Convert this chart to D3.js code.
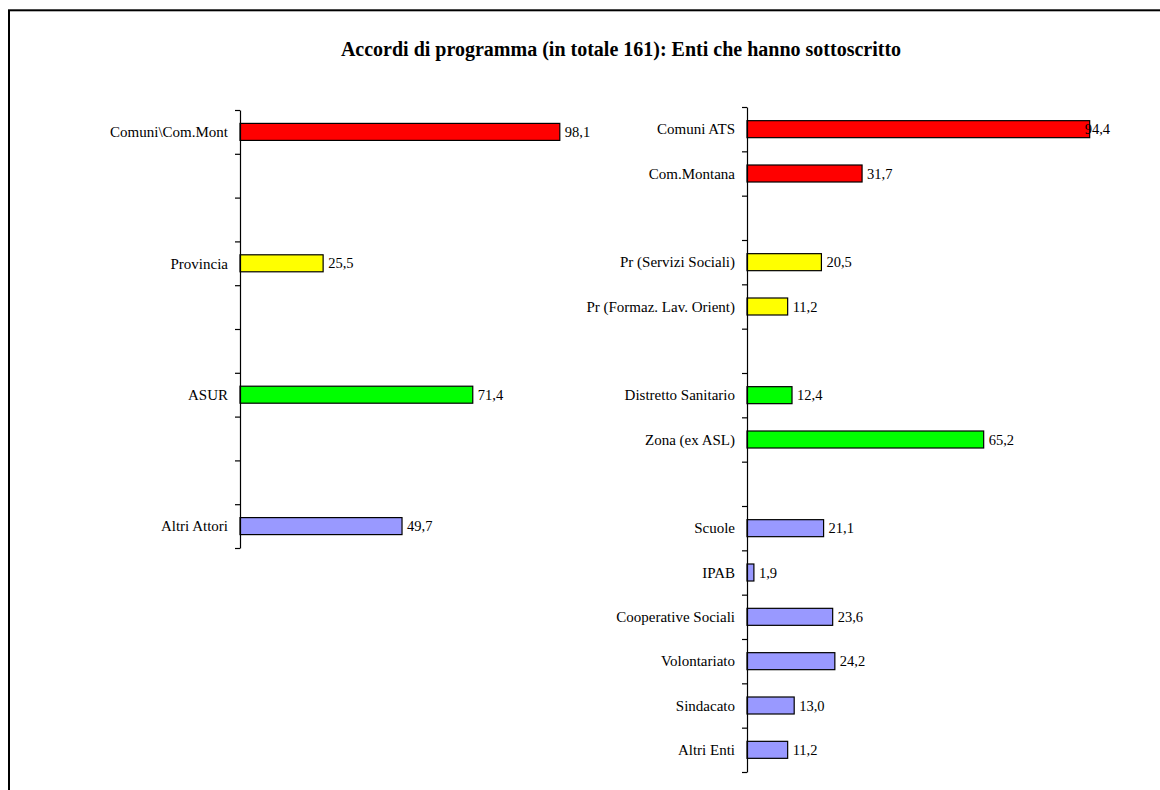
<!DOCTYPE html>
<html>
<head>
<meta charset="utf-8">
<script src="https://cdn.jsdelivr.net/npm/d3@7"></script>
<style>
  html, body { margin: 0; padding: 0; background: #fff; }
  svg { display: block; }
  text { font-family: "Liberation Serif", "Times New Roman", serif; fill: #000; }
</style>
</head>
<body>
<svg id="chart" width="1160" height="790"></svg>
<script>
// ---- Data ----
const titleText = "Accordi di programma (in totale 161): Enti che hanno sottoscritto";

const leftCategories = ["Comuni\\Com.Mont", null, null, "Provincia", null, null, "ASUR", null, null, "Altri Attori"];
const leftValues     = [98.1, null, null, 25.5, null, null, 71.4, null, null, 49.7];
const leftGroups     = ["Comuni", null, null, "Provincia", null, null, "Sanita", null, null, "Altri"];

const rightCategories = ["Comuni ATS", "Com.Montana", null, "Pr (Servizi Sociali)", "Pr (Formaz. Lav. Orient)", null,
                         "Distretto Sanitario", "Zona (ex ASL)", null, "Scuole", "IPAB", "Cooperative Sociali",
                         "Volontariato", "Sindacato", "Altri Enti"];
const rightValues     = [94.4, 31.7, null, 20.5, 11.2, null, 12.4, 65.2, null, 21.1, 1.9, 23.6, 24.2, 13.0, 11.2];
const rightGroups     = ["Comuni", "Comuni", null, "Provincia", "Provincia", null, "Sanita", "Sanita", null,
                         "Altri", "Altri", "Altri", "Altri", "Altri", "Altri"];

const groupNames  = ["Comuni", "Provincia", "Sanita", "Altri"];
const groupColors = ["#FF0000", "#FFFF00", "#00FF00", "#9999FF"];

// ---- Setup ----
const svg = d3.select("#chart");
const color = d3.scaleOrdinal().domain(groupNames).range(groupColors);
const itFormat = d3.formatLocale({decimal: ",", thousands: ".", grouping: [3], currency: ["", "€"]}).format(".1f");

// outer chart border (extends beyond viewport)
svg.append("rect")
  .attr("x", 9).attr("y", 10.3)
  .attr("width", 1300).attr("height", 900)
  .attr("fill", "none").attr("stroke", "#000").attr("stroke-width", 2);

// title
svg.append("text")
  .attr("x", 621).attr("y", 56)
  .attr("text-anchor", "middle")
  .attr("font-size", 20).attr("font-weight", "bold")
  .text(titleText);

function panel(cfg) {
  const n = cfg.categories.length;
  const idx = d3.range(n);
  const x = d3.scaleLinear().domain([0, 100]).range(cfg.xRange);
  const pad = 1 - 18 / ((cfg.yRange[1] - cfg.yRange[0]) / n);
  const y = d3.scaleBand().domain(idx).range(cfg.yRange).paddingInner(pad).paddingOuter(pad / 2);
  const yTicks = d3.scaleLinear().domain([0, n]).range(cfg.yRange);

  const g = svg.append("g");

  // bars
  const items = idx.filter(i => cfg.values[i] != null);
  g.selectAll("rect.bar").data(items).join("rect")
    .attr("class", "bar")
    .attr("x", x(0))
    .attr("y", i => y(i) + 0.5)
    .attr("width", i => x(cfg.values[i]) - x(0))
    .attr("height", y.bandwidth() - 1)
    .attr("fill", i => color(cfg.groups[i]))
    .attr("stroke", "#000").attr("stroke-width", 1.2);

  // axis (ticks between categories)
  g.append("g")
    .attr("transform", `translate(${x(0)},0)`)
    .call(d3.axisLeft(yTicks).tickValues(d3.range(n + 1)).tickSize(5).tickSizeOuter(0).tickFormat(""))
    .call(a => a.selectAll("path,line").attr("stroke", "#000").attr("stroke-width", 1.2));

  // category labels
  g.selectAll("text.cat").data(items).join("text")
    .attr("class", "cat")
    .attr("x", x(0) - 12)
    .attr("y", i => y(i) + y.bandwidth() / 2)
    .attr("dy", "0.35em")
    .attr("text-anchor", "end")
    .attr("font-size", 15)
    .text(i => cfg.categories[i]);

  // value labels
  g.selectAll("text.val").data(items).join("text")
    .attr("class", "val")
    .attr("y", i => y(i) + y.bandwidth() / 2)
    .attr("dy", "0.35em")
    .attr("font-size", 14.5)
    .text(i => itFormat(cfg.values[i]))
    .attr("x", function(i) {
      const w = this.getComputedTextLength();
      const px = x(cfg.values[i]) + 5;
      return cfg.clamp ? Math.min(px, x.range()[1] - w) : px;
    });
}

panel({categories: leftCategories, values: leftValues, groups: leftGroups,
       xRange: [240, 566], yRange: [110, 548], clamp: false});
panel({categories: rightCategories, values: rightValues, groups: rightGroups,
       xRange: [747, 1110], yRange: [107, 772], clamp: true});
</script>
</body>
</html>
